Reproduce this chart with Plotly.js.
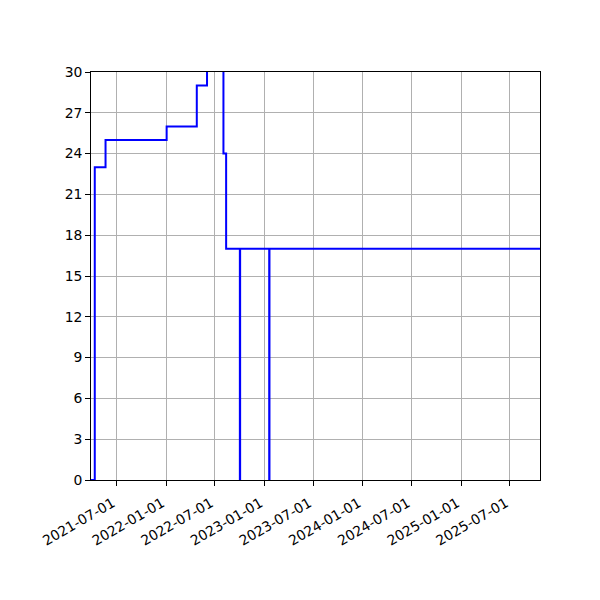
<!DOCTYPE html>
<html>
<head>
<meta charset="utf-8">
<script src="https://cdn.plot.ly/plotly-3.0.1.min.js"></script>
<style>
  html, body { margin: 0; padding: 0; background: #fff; }
  #chart { width: 600px; height: 600px; }
</style>
</head>
<body>
<div id="chart"></div>
<script>
// step dates (value holds until the next date)
const dates = ['2021-03-28', '2021-04-11', '2021-05-21', '2022-01-03', '2022-04-25',
               '2022-06-02', '2022-08-02', '2022-08-12', '2022-10-02', '2022-10-03',
               '2023-01-19', '2023-01-20', '2025-10-21'];
const values = [0, 23, 25, 26, 29, 33, 24, 17, 0, 17, 0, 17, 17];

const xTickVals = ['2021-07-01', '2022-01-01', '2022-07-01', '2023-01-01', '2023-07-01',
                   '2024-01-01', '2024-07-01', '2025-01-01', '2025-07-01'];
const yTickVals = [0, 3, 6, 9, 12, 15, 18, 21, 24, 27, 30];

const axisCommon = {
  showline: true,
  linecolor: '#000',
  linewidth: 1,
  mirror: true,
  showgrid: true,
  gridcolor: '#b0b0b0',
  gridwidth: 1,
  zeroline: false,
  ticks: 'outside',
  ticklen: 4.9,
  tickwidth: 1,
  tickcolor: '#000',
  tickfont: { family: 'DejaVu Sans', size: 13.9, color: '#000' }
};

Plotly.newPlot('chart', [{
  x: dates,
  y: values,
  type: 'scatter',
  mode: 'lines',
  line: { shape: 'hv', color: '#0000ff', width: 2 },
  hoverinfo: 'skip'
}], {
  width: 600,
  height: 600,
  margin: { l: 91, r: 60, t: 72, b: 120 },
  paper_bgcolor: '#fff',
  plot_bgcolor: '#fff',
  showlegend: false,
  xaxis: Object.assign({}, axisCommon, {
    type: 'date',
    range: ['2021-03-28', '2025-10-21'],
    tickmode: 'array',
    tickvals: xTickVals,
    ticktext: xTickVals,
    tickangle: -30,
    ticklabelstandoff: 4,
    ticklabelshift: -4
  }),
  yaxis: Object.assign({}, axisCommon, {
    range: [0, 30],
    tickmode: 'array',
    tickvals: yTickVals,
    ticktext: yTickVals.map(String)
  })
}, { displayModeBar: false, staticPlot: true });
</script>
</body>
</html>
